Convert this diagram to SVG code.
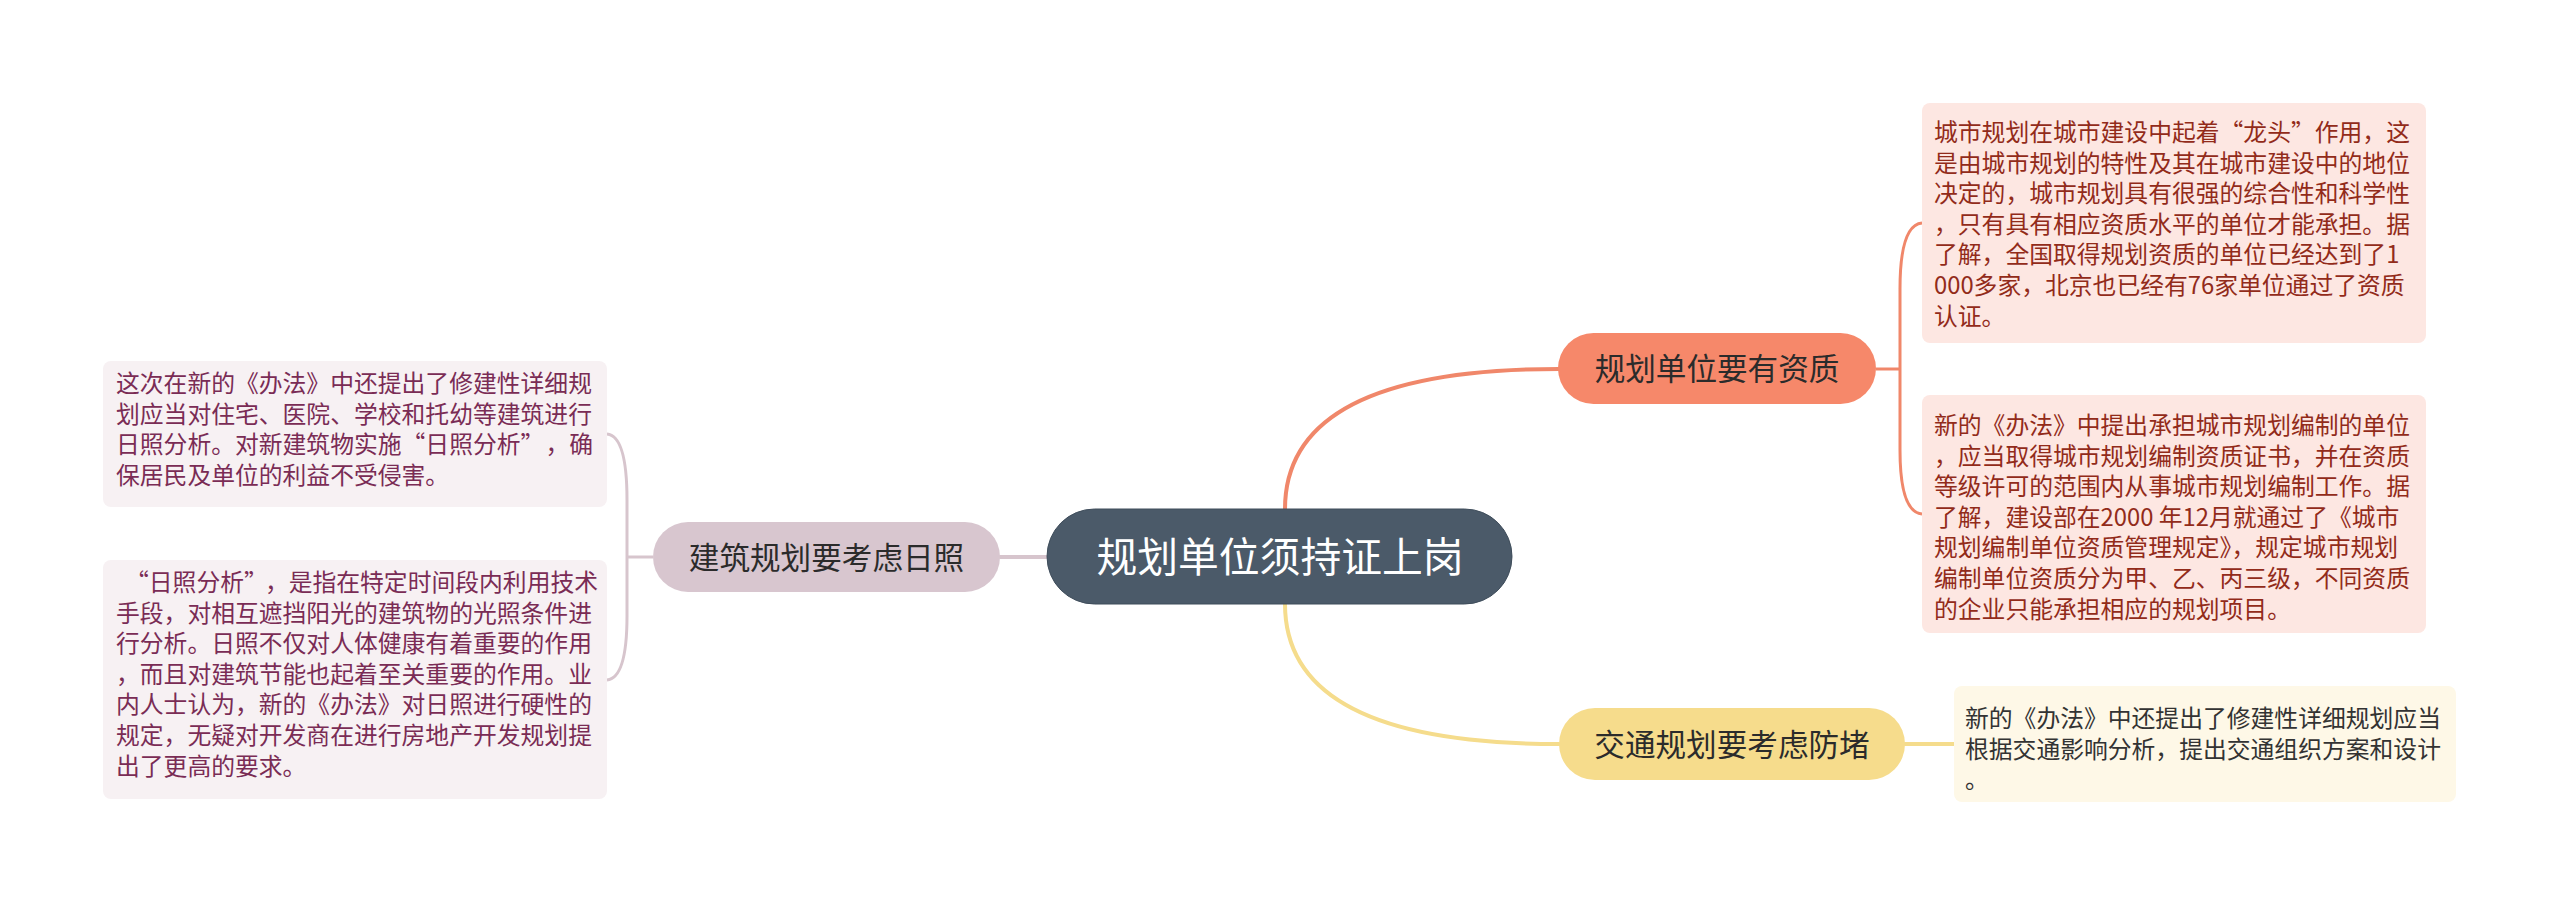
<svg xmlns="http://www.w3.org/2000/svg" width="2560" height="906" viewBox="0 0 2560 906">
<style>
text { font-family: "Noto Sans CJK SC", "Noto Sans", sans-serif; }
.conn { fill: none; stroke-width: 4; stroke-linecap: round; }
.thin { fill: none; stroke-width: 3; }
.c-or { stroke: #f0876a; }
.c-ye { stroke: #f5dc8c; }
.c-pk { stroke: #d7c5cd; }
.center-t { font-size: 40.8px; fill: #ffffff; text-anchor: middle; }
.branch-t { font-size: 30.6px; fill: #2b2b2b; text-anchor: middle; }
.leaf-t { font-size: 23.8px; }
.red-t { fill: #922b1a; }
.plum-t { fill: #7a2c55; }
.dark-t { fill: #333333; }
</style>
<rect width="2560" height="906" fill="#ffffff"/>
<g id="connectors">
  <path class="conn c-or" d="M1285,509 Q1285,369 1559,369"/>
  <path class="conn c-ye" d="M1285,604 Q1285,744 1559,744"/>
  <path class="conn c-pk" d="M1000,557 L1047,557"/>
  <path class="thin c-or" d="M1876,369 L1900,369"/>
  <path class="thin c-or" d="M1900,369 L1900,289 Q1900,225 1922,223"/>
  <path class="thin c-or" d="M1900,369 L1900,450 Q1900,512 1922,514"/>
  <path class="conn c-ye" d="M1905,744 L1954,744"/>
  <path class="thin c-pk" d="M653,557 L627,557"/>
  <path class="thin c-pk" d="M627,557 L627,500 Q627,436 607,434"/>
  <path class="thin c-pk" d="M627,557 L627,616 Q627,678 607,680"/>
</g>
<g id="node-center">
  <rect x="1047" y="509" width="465" height="95" rx="47.5" fill="#4b5a69" stroke="#3f4d5b" stroke-width="1"/>
  <text class="center-t" x="1280" y="572">规划单位须持证上岗</text>
</g>
<g id="node-zizhi">
  <rect x="1558" y="333" width="318" height="71" rx="35.5" fill="#f6886a"/>
  <text class="branch-t" x="1717" y="380">规划单位要有资质</text>
</g>
<g id="node-jiaotong">
  <rect x="1559" y="708" width="346" height="72" rx="36" fill="#f6dc8c"/>
  <text class="branch-t" x="1732" y="755.5">交通规划要考虑防堵</text>
</g>
<g id="node-rizhao">
  <rect x="653" y="522" width="347" height="70" rx="35" fill="#d8c6cf"/>
  <text class="branch-t" x="826.5" y="568.5">建筑规划要考虑日照</text>
</g>
<g id="leaf-zizhi-1">
  <rect x="1922" y="103" width="504" height="240" rx="8" fill="#fde7e2"/>
  <text class="leaf-t red-t" x="1934" y="141">
    <tspan x="1934">城市规划在城市建设中起着“龙头”作用，这</tspan>
    <tspan x="1934" dy="30.6">是由城市规划的特性及其在城市建设中的地位</tspan>
    <tspan x="1934" dy="30.6">决定的，城市规划具有很强的综合性和科学性</tspan>
    <tspan x="1934" dy="30.6">，只有具有相应资质水平的单位才能承担。据</tspan>
    <tspan x="1934" dy="30.6">了解，全国取得规划资质的单位已经达到了1</tspan>
    <tspan x="1934" dy="30.6">000多家，北京也已经有76家单位通过了资质</tspan>
    <tspan x="1934" dy="30.6">认证。</tspan>
  </text>
</g>
<g id="leaf-zizhi-2">
  <rect x="1922" y="395" width="504" height="238" rx="8" fill="#fde7e2"/>
  <text class="leaf-t red-t" x="1934" y="434">
    <tspan x="1934">新的《办法》中提出承担城市规划编制的单位</tspan>
    <tspan x="1934" dy="30.6">，应当取得城市规划编制资质证书，并在资质</tspan>
    <tspan x="1934" dy="30.6">等级许可的范围内从事城市规划编制工作。据</tspan>
    <tspan x="1934" dy="30.6">了解，建设部在2000 年12月就通过了《城市</tspan>
    <tspan x="1934" dy="30.6">规划编制单位资质管理规定》，规定城市规划</tspan>
    <tspan x="1934" dy="30.6">编制单位资质分为甲、乙、丙三级，不同资质</tspan>
    <tspan x="1934" dy="30.6">的企业只能承担相应的规划项目。</tspan>
  </text>
</g>
<g id="leaf-jiaotong">
  <rect x="1954" y="686" width="502" height="116" rx="8" fill="#fef8e7"/>
  <text class="leaf-t dark-t" x="1965" y="727">
    <tspan x="1965">新的《办法》中还提出了修建性详细规划应当</tspan>
    <tspan x="1965" dy="30.6">根据交通影响分析，提出交通组织方案和设计</tspan>
    <tspan x="1965" dy="30.6">。</tspan>
  </text>
</g>
<g id="leaf-rizhao-1">
  <rect x="103" y="361" width="504" height="146" rx="8" fill="#f7f1f3"/>
  <text class="leaf-t plum-t" x="116" y="392">
    <tspan x="116">这次在新的《办法》中还提出了修建性详细规</tspan>
    <tspan x="116" dy="30.6">划应当对住宅、医院、学校和托幼等建筑进行</tspan>
    <tspan x="116" dy="30.6">日照分析。对新建筑物实施“日照分析”<tspan dx="13">，确</tspan></tspan>
    <tspan x="116" dy="30.6">保居民及单位的利益不受侵害。</tspan>
  </text>
</g>
<g id="leaf-rizhao-2">
  <rect x="103" y="560" width="504" height="239" rx="8" fill="#f7f1f3"/>
  <text class="leaf-t plum-t" x="116" y="591">
    <tspan x="125">“日照分析”<tspan dx="9">，是指在特定时间段内利用技术</tspan></tspan>
    <tspan x="116" dy="30.6">手段，对相互遮挡阳光的建筑物的光照条件进</tspan>
    <tspan x="116" dy="30.6">行分析。日照不仅对人体健康有着重要的作用</tspan>
    <tspan x="116" dy="30.6">，而且对建筑节能也起着至关重要的作用。业</tspan>
    <tspan x="116" dy="30.6">内人士认为，新的《办法》对日照进行硬性的</tspan>
    <tspan x="116" dy="30.6">规定，无疑对开发商在进行房地产开发规划提</tspan>
    <tspan x="116" dy="30.6">出了更高的要求。</tspan>
  </text>
</g>
</svg>
